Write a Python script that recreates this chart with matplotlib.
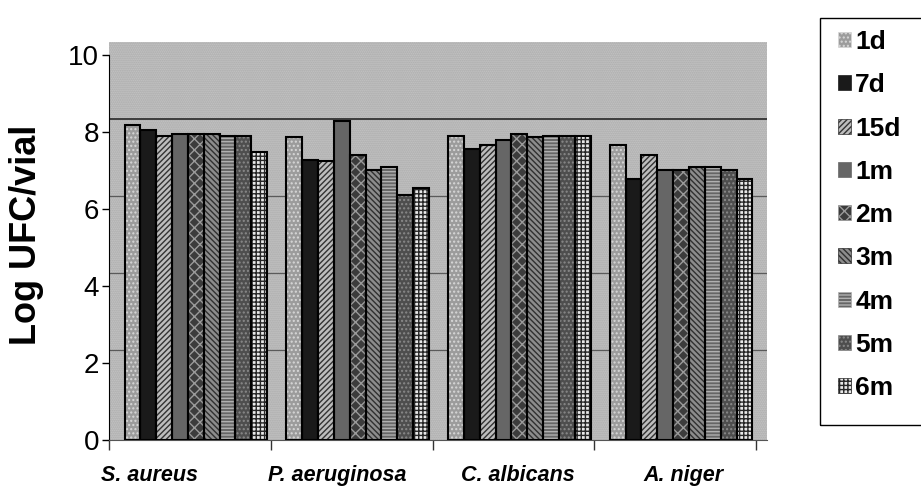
import numpy as np
import matplotlib
matplotlib.use("Agg")
import matplotlib.pyplot as plt
import matplotlib.transforms as mtransforms
from matplotlib.patches import Rectangle, Patch

plt.rcParams['font.family'] = ['Liberation Sans', 'DejaVu Sans']
plt.rcParams['hatch.linewidth'] = 1.0

# data (Log UFC/vial)
organisms = ['S. aureus', 'P. aeruginosa', 'C. albicans', 'A. niger']
times = ['1d', '7d', '15d', '1m', '2m', '3m', '4m', '5m', '6m']

s_aureus = [8.19, 8.05, 7.90, 7.95, 7.95, 7.95, 7.90, 7.90, 7.48]
p_aeruginosa = [7.87, 7.27, 7.25, 8.29, 7.40, 7.01, 7.09, 6.36, 6.55]
c_albicans = [7.90, 7.56, 7.66, 7.79, 7.95, 7.87, 7.90, 7.90, 7.90]
a_niger = [7.66, 6.78, 7.40, 7.01, 7.01, 7.09, 7.09, 7.01, 6.78]

y_ticks = [0, 2, 4, 6, 8, 10]

# grey-scale fills: (face, hatch, hatch colour)
styles = [
    ('#9c9c9c', '....', '#d8d8d8'),
    ('#1a1a1a', '', '#1a1a1a'),
    ('#bdbdbd', '//////', '#333333'),
    ('#666666', '', '#666666'),
    ('#3c3c3c', 'xxx', '#9a9a9a'),
    ('#8c8c8c', '\\\\\\\\\\\\', '#303030'),
    ('#666666', '-----', '#b0b0b0'),
    ('#4e4e4e', '....', '#8a8a8a'),
    ('#e8e8e8', '++++', '#262626'),
]

values = np.array([s_aureus, p_aeruginosa, c_albicans, a_niger])
x = np.arange(len(organisms))
width = 0.098
shift = 0.037
label_shift = np.array([-0.25, -0.09, 0.03, 0.05])
depth = 0.13  # inches, fake 3d offset of the back wall

fig = plt.figure(figsize=(9.21, 4.91), dpi=100)
ax = fig.add_axes([109 / 921, 1 - 440 / 491, (767 - 109) / 921, 398 / 491])

# back wall
ax.set_facecolor('#c8c8c8')
ax.add_patch(Rectangle((0, 0), 1, 1, transform=ax.transAxes, facecolor='none',
                       hatch='........', edgecolor='#a6a6a6', linewidth=0, zorder=0))

up = mtransforms.ScaledTranslation(0, depth, fig.dpi_scale_trans)
for v in y_ticks[1:-1]:
    ax.plot([0, 1], [v, v], transform=ax.get_yaxis_transform() + up,
            color='#333333' if v == 8 else '#5a5a5a', lw=1.3 if v == 8 else 0.9, zorder=1)

for j, t in enumerate(times):
    face, hatch, hc = styles[j]
    pos = x + shift + (j - 4) * width
    ax.bar(pos, values[:, j], width, color=face, hatch=hatch, edgecolor=hc,
           linewidth=0, zorder=3)
    ax.bar(pos, values[:, j], width, fill=False, edgecolor='black',
           linewidth=1.5, zorder=4)

# short slanted connectors from the front axis to the back wall
for v in y_ticks:
    p0 = ax.transData.transform((-0.5, v))
    p1 = p0 + np.array([13, 13])
    ax.plot([p0[0], p1[0]], [p0[1], p1[1]], transform=mtransforms.IdentityTransform(),
            color='#555555', lw=0.9, zorder=2, clip_on=False)

ax.set_xlim(-0.5, 3.568)
ax.set_ylim(0, 10 + 13 / 38.5)
ax.set_yticks(y_ticks)
ax.tick_params(axis='y', labelsize=20, length=5, width=1, pad=2, direction='out')
ax.set_xticks(np.arange(-0.5, 4, 1))
ax.set_xticklabels([])
ax.tick_params(axis='x', which='major', length=7, width=1, color='#333333')
ax.set_xticks(x + label_shift, organisms, minor=True)
ax.tick_params(axis='x', which='minor', length=0, pad=18)
for lab in ax.get_xticklabels(minor=True):
    lab.set_fontsize(15.5)
    lab.set_fontweight('bold')
    lab.set_fontstyle('italic')

for s in ['top', 'right']:
    ax.spines[s].set_visible(False)
ax.spines['left'].set_bounds(0, 10)
ax.spines['bottom'].set_color('#555555')

fig.text(27 / 921, 1 - 235 / 491, 'Log UFC/vial', rotation=90, fontsize=26,
         fontweight='bold', ha='center', va='center')

# legend
fig.patches.append(Rectangle((820 / 921, 1 - 425 / 491), 0.2, 407 / 491,
                             transform=fig.transFigure, fill=False,
                             edgecolor='black', linewidth=1))
handles = [Patch(facecolor=f, hatch=h, edgecolor=c, linewidth=0.5) for f, h, c in styles]
fig.legend(handles, times, loc='upper left', bbox_to_anchor=(838 / 921, 1 - 30 / 491),
           frameon=False, prop={'size': 19, 'weight': 'bold'}, handlelength=0.5,
           handleheight=0.5, handletextpad=0.15, labelspacing=0.73, borderpad=0,
           borderaxespad=0)

fig.savefig('out.png', dpi=100)
